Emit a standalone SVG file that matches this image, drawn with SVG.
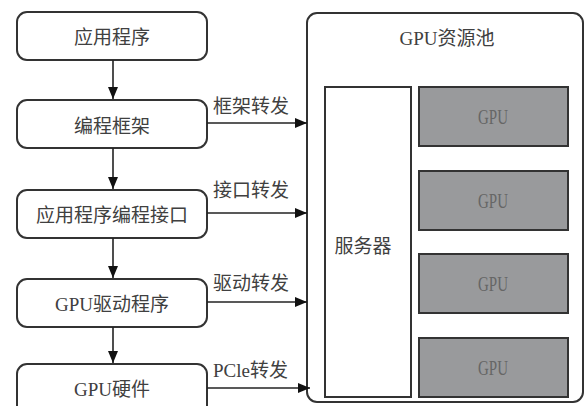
<svg xmlns="http://www.w3.org/2000/svg" width="584" height="406" viewBox="0 0 584 406">
  <style>
    .step { fill: #ffffff; stroke: #333333; stroke-width: 2; }
    .label { font-family: "Liberation Serif", "Noto Sans CJK SC", serif; font-size: 19px; fill: #404040; }
    .center { text-anchor: middle; dominant-baseline: central; }
    .link { stroke: #222222; stroke-width: 1.6; fill: none; }
    .gpu { fill: #999a9c; stroke: #333333; stroke-width: 2; }
    .gpu-text { font-family: "Liberation Serif", serif; font-size: 21px; fill: #666666; text-anchor: middle; dominant-baseline: central; }
  </style>
  <defs>
    <marker id="arrow" viewBox="0 0 12 10" refX="12" refY="5" markerWidth="12" markerHeight="10" markerUnits="userSpaceOnUse" orient="auto">
      <path d="M0,0 L12,5 L0,10 Z" fill="#111111"/>
    </marker>
  </defs>
  <rect width="584" height="406" fill="#ffffff"/>

  <!-- software stack -->
  <g id="app">
    <rect class="step" x="17" y="12" width="190" height="48" rx="10"/>
    <text class="label center" x="112" y="37">应用程序</text>
  </g>
  <g id="framework">
    <rect class="step" x="17" y="100" width="190" height="48" rx="10"/>
    <text class="label center" x="112" y="126">编程框架</text>
  </g>
  <g id="api">
    <rect class="step" x="17" y="190" width="190" height="48" rx="10"/>
    <text class="label center" x="112" y="215">应用程序编程接口</text>
  </g>
  <g id="driver">
    <rect class="step" x="17" y="279" width="190" height="48" rx="10"/>
    <text class="label center" x="112" y="304">GPU驱动程序</text>
  </g>
  <g id="hardware">
    <rect class="step" x="17" y="364" width="190" height="60" rx="10"/>
    <text class="label center" x="112" y="389">GPU硬件</text>
  </g>

  <!-- GPU pool -->
  <g id="pool">
    <rect class="step" x="307" y="13" width="276" height="389" rx="10"/>
    <text class="label center" x="447" y="38">GPU资源池</text>
  </g>
  <g id="server">
    <rect class="step" x="325" y="87" width="86" height="310"/>
    <text class="label center" x="363" y="246">服务器</text>
  </g>
  <g id="gpu1">
    <rect class="gpu" x="419" y="87" width="149" height="59"/>
    <text class="gpu-text" x="493" y="117" textLength="30" lengthAdjust="spacingAndGlyphs">GPU</text>
  </g>
  <g id="gpu2">
    <rect class="gpu" x="419" y="171" width="149" height="59"/>
    <text class="gpu-text" x="493" y="201" textLength="30" lengthAdjust="spacingAndGlyphs">GPU</text>
  </g>
  <g id="gpu3">
    <rect class="gpu" x="419" y="254" width="149" height="59"/>
    <text class="gpu-text" x="493" y="284" textLength="30" lengthAdjust="spacingAndGlyphs">GPU</text>
  </g>
  <g id="gpu4">
    <rect class="gpu" x="419" y="338" width="149" height="59"/>
    <text class="gpu-text" x="493" y="368" textLength="30" lengthAdjust="spacingAndGlyphs">GPU</text>
  </g>

  <!-- connectors -->
  <g id="connectors">
    <line class="link" x1="113" y1="60" x2="113" y2="99" marker-end="url(#arrow)"/>
    <line class="link" x1="113" y1="148" x2="113" y2="189" marker-end="url(#arrow)"/>
    <line class="link" x1="113" y1="238" x2="113" y2="278" marker-end="url(#arrow)"/>
    <line class="link" x1="113" y1="327" x2="113" y2="363" marker-end="url(#arrow)"/>

    <line class="link" x1="207" y1="123" x2="307" y2="123" marker-end="url(#arrow)"/>
    <line class="link" x1="207" y1="213" x2="307" y2="213" marker-end="url(#arrow)"/>
    <line class="link" x1="207" y1="302" x2="307" y2="302" marker-end="url(#arrow)"/>
    <line class="link" x1="207" y1="388" x2="310" y2="388" marker-end="url(#arrow)"/>

    <text class="label" x="213" y="113">框架转发</text>
    <text class="label" x="213" y="197">接口转发</text>
    <text class="label" x="213" y="290">驱动转发</text>
    <text class="label" x="213" y="377">PCle转发</text>
  </g>
</svg>
